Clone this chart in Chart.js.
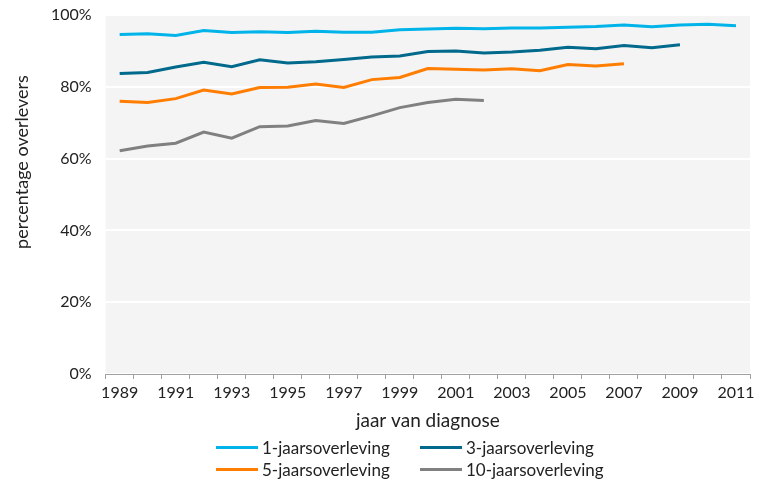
<!DOCTYPE html>
<html>
<head>
<meta charset="utf-8">
<script src="https://cdn.jsdelivr.net/npm/chart.js@4/dist/chart.umd.min.js"></script>
<style>
  html, body { margin: 0; padding: 0; background: #fff; }
  #wrap { position: relative; width: 763px; height: 481px; }
  #legend { position: absolute; left: 0; top: 0; width: 763px; height: 481px; pointer-events: none;
            font-family: Lato, "Open Sans", sans-serif; font-size: 17px; color: #222; }
  .item { position: absolute; display: flex; align-items: center; white-space: nowrap; }
  .swatch { display: inline-block; width: 42px; height: 3px; margin-right: 4px; }
</style>
</head>
<body>
<div id="wrap">
  <canvas id="c" width="763" height="481"></canvas>
  <div id="legend"></div>
</div>
<script>
const years = ['1989','1990','1991','1992','1993','1994','1995','1996','1997','1998','1999','2000','2001','2002','2003','2004','2005','2006','2007','2008','2009','2010','2011'];
const seriesNames = ['1-jaarsoverleving','3-jaarsoverleving','5-jaarsoverleving','10-jaarsoverleving'];
const oneYear   = [94.6,94.8,94.3,95.7,95.1,95.3,95.1,95.5,95.2,95.2,95.9,96.1,96.3,96.2,96.4,96.4,96.6,96.8,97.2,96.7,97.2,97.4,97.0];
const threeYear = [83.7,84.0,85.5,86.8,85.6,87.5,86.6,87.0,87.6,88.3,88.6,89.8,90.0,89.4,89.7,90.2,91.0,90.6,91.5,90.9,91.7,null,null];
const fiveYear  = [76.0,75.6,76.7,79.1,78.0,79.8,79.9,80.8,79.8,82.0,82.6,85.1,84.9,84.7,85.0,84.5,86.2,85.8,86.4,null,null,null,null];
const tenYear   = [62.2,63.5,64.3,67.4,65.7,68.9,69.1,70.6,69.8,71.9,74.2,75.6,76.5,76.2,null,null,null,null,null,null,null,null,null];
const yTicks = [0,20,40,60,80,100];
const colors = ['#00b4ea','#00698c','#ff7d00','#808080'];
const yTitle = 'percentage overlevers';

const FONT = 'Lato, "Open Sans", sans-serif';
const TXT = '#222222';

const bgPlugin = {
  id: 'plotBg',
  beforeDraw(chart) {
    const {ctx, chartArea} = chart;
    ctx.save();
    ctx.fillStyle = '#f4f4f4';
    ctx.fillRect(chartArea.left, chartArea.top, chartArea.right - chartArea.left, chartArea.bottom - chartArea.top);
    ctx.restore();
  }
};

const yTitlePlugin = {
  id: 'yTitle',
  afterDraw(chart) {
    const {ctx} = chart;
    ctx.save();
    ctx.translate(22, 162);
    ctx.rotate(-Math.PI / 2);
    ctx.fillStyle = TXT;
    ctx.font = '18px ' + FONT;
    ctx.textAlign = 'center';
    ctx.textBaseline = 'middle';
    ctx.fillText(yTitle, 0, 0);
    ctx.restore();
  }
};

const seriesData = [oneYear, threeYear, fiveYear, tenYear];
const datasets = seriesData.map((d, i) => ({
  label: seriesNames[i],
  data: d,
  borderColor: colors[i],
  backgroundColor: colors[i],
  borderWidth: 3,
  pointRadius: 0,
  tension: 0,
  fill: false,
  spanGaps: false
}));

new Chart(document.getElementById('c'), {
  type: 'line',
  data: { labels: years, datasets },
  options: {
    responsive: false,
    animation: false,
    devicePixelRatio: 1,
    layout: { padding: { top: 15, right: 13, bottom: 49, left: 51 } },
    plugins: {
      legend: { display: false },
      tooltip: { enabled: false }
    },
    scales: {
      x: {
        type: 'category',
        offset: true,
        grid: { display: true, offset: true, drawOnChartArea: false, drawTicks: true, tickLength: 5, color: '#a0a0a0' },
        border: { display: true, color: '#a0a0a0', width: 1 },
        ticks: {
          autoSkip: false, maxRotation: 0, minRotation: 0, padding: 4,
          color: TXT, font: { family: FONT, size: 16 },
          callback: function(v, i) { return i % 2 === 0 ? years[i] : ''; }
        },
        title: { display: true, text: 'jaar van diagnose', color: TXT, font: { family: FONT, size: 19 }, padding: { top: 3, bottom: 0 } }
      },
      y: {
        min: 0, max: 100,
        afterBuildTicks(axis) { axis.ticks = yTicks.map(v => ({ value: v })); },
        grid: { color: '#ffffff', lineWidth: 2, drawTicks: true, tickLength: 14, tickColor: 'rgba(0,0,0,0)' },
        border: { display: false },
        ticks: {
          padding: 0, color: TXT, font: { family: FONT, size: 16 },
          callback: v => v + '%'
        },
        title: { display: false }
      }
    }
  },
  plugins: [bgPlugin, yTitlePlugin]
});

// HTML legend (2 x 2 grid)
const legendPos = [
  { left: 216, top: 447 },
  { left: 420, top: 447 },
  { left: 216, top: 469 },
  { left: 420, top: 469 }
];
const leg = document.getElementById('legend');
seriesNames.forEach((name, i) => {
  const it = document.createElement('div');
  it.className = 'item';
  it.style.left = legendPos[i].left + 'px';
  it.style.top = (legendPos[i].top - 10) + 'px';
  it.style.height = '20px';
  const sw = document.createElement('span');
  sw.className = 'swatch';
  sw.style.background = colors[i];
  const tx = document.createElement('span');
  tx.textContent = name;
  it.appendChild(sw); it.appendChild(tx);
  leg.appendChild(it);
});
</script>
</body>
</html>
